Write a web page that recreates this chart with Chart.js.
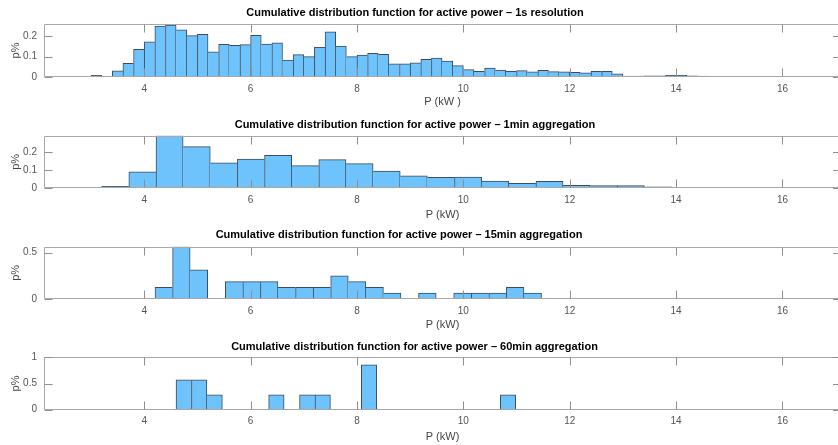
<!DOCTYPE html>
<html>
<head>
<meta charset="utf-8">
<script src="https://cdn.jsdelivr.net/npm/chart.js@4.4.1/dist/chart.umd.min.js"></script>
<style>
  html, body { margin: 0; padding: 0; background: #fff; overflow: hidden; width: 838px; height: 445px; position: relative; }
  canvas { position: absolute; left: 0; }
</style>
</head>
<body>
<canvas id="c1s" width="842" height="110" style="top:0px"></canvas>
<canvas id="c1min" width="842" height="112" style="top:110px"></canvas>
<canvas id="c15min" width="842" height="111" style="top:222px"></canvas>
<canvas id="c60min" width="842" height="112" style="top:333px"></canvas>
<script>
// histogram bins: first edge, bin width, bar heights
const start1s = 2.8, width1s = 0.2;
const values1s = [
  0.003, 0.008, 0.003, 0.030, 0.067, 0.136, 0.173, 0.250, 0.255, 0.232,
  0.203, 0.209, 0.124, 0.160, 0.155, 0.159, 0.204, 0.162, 0.168, 0.083,
  0.110, 0.100, 0.146, 0.222, 0.152, 0.100, 0.108, 0.116, 0.111, 0.065,
  0.065, 0.070, 0.087, 0.093, 0.078, 0.056, 0.036, 0.028, 0.044, 0.034,
  0.028, 0.031, 0.025, 0.033, 0.026, 0.025, 0.023, 0.021, 0.028, 0.028,
  0.015, 0.005, 0.005, 0.006, 0.006, 0.008, 0.008, 0.006, 0.005, 0.003,
  0.002, 0.003, 0.002, 0.001, 0.002, 0.001, 0.002, 0.001
];
const start1min = 3.201, width1min = 0.5102;
const values1min = [
  0.009, 0.089, 0.290, 0.229, 0.140, 0.161, 0.181, 0.124, 0.157, 0.135,
  0.094, 0.067, 0.059, 0.061, 0.039, 0.026, 0.037, 0.015, 0.013, 0.013,
  0.006, 0.002
];
const start15min = 4.203, width15min = 0.3303;
const values15min = [
  0.125, 0.5625, 0.3125, 0, 0.1875, 0.1875, 0.1875, 0.125, 0.125, 0.125,
  0.25, 0.1875, 0.125, 0.0625, 0, 0.0625, 0, 0.0625, 0.0625, 0.0625,
  0.125, 0.0625
];
const start60min = 4.598, width60min = 0.2903;
const values60min = [
  0.571, 0.571, 0.286, 0, 0, 0, 0.286, 0, 0.286, 0.286,
  0, 0, 0.857, 0, 0, 0, 0, 0, 0, 0,
  0, 0.286
];

const xTicks = [4, 6, 8, 10, 12, 14, 16];
const yTicks1s = [0, 0.1, 0.2];
const yTicks1min = [0, 0.1, 0.2];
const yTicks15min = [0, 0.5];
const yTicks60min = [0, 0.5, 1];

const titles = [
  'Cumulative distribution function for active power – 1s resolution',
  'Cumulative distribution function for active power – 1min aggregation',
  'Cumulative distribution function for active power – 15min aggregation',
  'Cumulative distribution function for active power – 60min aggregation'
];

Chart.defaults.font.family = '"Liberation Sans", Arial, Helvetica, sans-serif';
Chart.defaults.color = '#555';

// matlab-like box, inward ticks and the panel title
const axesBox = {
  id: 'axesBox',
  afterDatasetsDraw(chart, args, opts) {
    const { ctx, chartArea: a, scales: { x, y } } = chart;
    ctx.save();
    ctx.lineWidth = 1;
    ctx.strokeStyle = '#a8a8a8';
    ctx.beginPath();
    const L = Math.round(a.left) + 0.5, B = Math.round(a.bottom) - 0.5, T = Math.round(a.top) + 0.5;
    ctx.moveTo(a.right, T); ctx.lineTo(L, T); ctx.lineTo(L, B); ctx.lineTo(a.right, B);
    ctx.stroke();
    ctx.strokeStyle = '#8f8f8f';
    ctx.beginPath();
    x.ticks.forEach(t => {
      const px = Math.round(x.getPixelForValue(t.value)) + 0.5;
      ctx.moveTo(px, B); ctx.lineTo(px, B - 8);
      ctx.moveTo(px, T); ctx.lineTo(px, T + 8);
    });
    y.ticks.forEach(t => {
      const py = Math.round(y.getPixelForValue(t.value)) + 0.5;
      ctx.moveTo(L, py); ctx.lineTo(L + 8, py);
      ctx.moveTo(a.right, py); ctx.lineTo(a.right - 8, py);
    });
    ctx.stroke();
    ctx.fillStyle = '#000';
    ctx.font = 'bold 11px "Liberation Sans", Arial, sans-serif';
    ctx.textAlign = 'center';
    ctx.textBaseline = 'middle';
    ctx.fillText(opts.text, opts.cx, opts.cy);
    ctx.restore();
  }
};

function makePanel(id, start, width, values, yMax, yTicks, p) {
  const data = values.map((v, i) => ({ x: start + (i + 0.5) * width, y: v }));
  new Chart(document.getElementById(id), {
    type: 'bar',
    data: {
      datasets: [{
        data: data,
        backgroundColor: '#6ec3fd',
        borderColor: '#3a4b5b',
        borderSkipped: false,
        borderWidth: c => {
          const v = values[c.dataIndex];
          const prev = c.dataIndex > 0 ? values[c.dataIndex - 1] : 0;
          const next = c.dataIndex < values.length - 1 ? values[c.dataIndex + 1] : 0;
          return { top: 1, bottom: 0, left: prev <= v ? 1 : 0, right: next < v ? 1 : 0 };
        },
        barPercentage: 1,
        categoryPercentage: 1
      }]
    },
    options: {
      responsive: false,
      animation: false,
      devicePixelRatio: 1,
      layout: { padding: { top: p.padTop, left: 0, right: 1, bottom: 0 } },
      plugins: {
        legend: { display: false },
        tooltip: { enabled: false },
        axesBox: { text: p.title, cx: p.titleX, cy: p.titleY }
      },
      scales: {
        x: {
          type: 'linear',
          offset: false,
          min: 2.116,
          max: 17.1,
          grid: { display: false, drawTicks: false },
          border: { display: false },
          afterBuildTicks: s => { s.ticks = xTicks.map(v => ({ value: v })); },
          afterFit: s => { s.height = p.xHeight; },
          ticks: { padding: 6, font: { size: 10 }, color: '#555', maxRotation: 0 },
          title: { display: true, text: p.xLabel, font: { size: 11 }, color: '#444', padding: { top: 0, bottom: p.xTitlePad } }
        },
        y: {
          min: 0,
          max: yMax,
          grid: { display: false, drawTicks: false },
          border: { display: false },
          afterBuildTicks: s => { s.ticks = yTicks.map(v => ({ value: v })); },
          afterFit: s => { s.width = 44; },
          ticks: { padding: 7, font: { size: 10 }, color: '#555', callback: v => String(v) },
          title: { display: true, text: 'p%', font: { size: 11 }, color: '#444', padding: { top: 9, bottom: 0 } }
        }
      }
    },
    plugins: [axesBox]
  });
}

makePanel('c1s', start1s, width1s, values1s, 0.26, yTicks1s,
  { padTop: 24, xHeight: 33, xTitlePad: 1.7, xLabel: 'P (kW )', title: titles[0], titleX: 415, titleY: 12.7 });
makePanel('c1min', start1min, width1min, values1min, 0.29, yTicks1min,
  { padTop: 25.7, xHeight: 34, xTitlePad: 0.4, xLabel: 'P (kW)', title: titles[1], titleX: 415, titleY: 15 });
makePanel('c15min', start15min, width15min, values15min, 0.5625, yTicks15min,
  { padTop: 24.7, xHeight: 34, xTitlePad: 1.4, xLabel: 'P (kW)', title: titles[2], titleX: 399, titleY: 13 });
makePanel('c60min', start60min, width60min, values60min, 1, yTicks60min,
  { padTop: 24.3, xHeight: 35.3, xTitlePad: 1.7, xLabel: 'P (kW)', title: titles[3], titleX: 414.5, titleY: 13.7 });
</script>
</body>
</html>
